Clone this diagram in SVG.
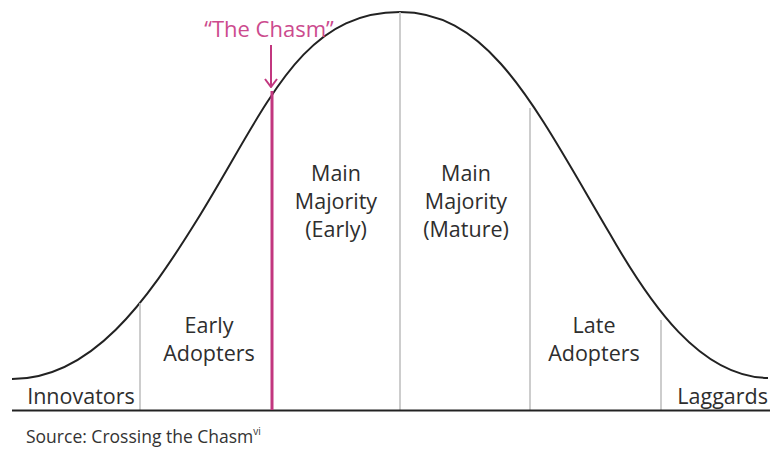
<svg xmlns="http://www.w3.org/2000/svg" width="770" height="450" viewBox="0 0 770 450">
  <style>
    .label { font-family: "Open Sans", "Noto Sans", sans-serif; font-size: 21.5px; fill: #2e2e2e; text-anchor: middle; }
    .divider { stroke: #bdbdbd; stroke-width: 1.5; fill: none; }
    .curve { stroke: #222; stroke-width: 2; fill: none; }
    .chasm { stroke: #c2377f; fill: none; }
  </style>
  <defs>
    <!-- open chevron arrowhead, drawn pointing along +x -->
    <marker id="chevron" viewBox="0 0 10 14" refX="9" refY="7" markerWidth="10" markerHeight="14" markerUnits="userSpaceOnUse" orient="auto">
      <path d="M1,1 L9,7 L1,13" fill="none" stroke="#c2377f" stroke-width="2"/>
    </marker>
  </defs>
  <rect width="770" height="450" fill="#fff"/>

  <!-- adoption bell curve -->
  <path class="curve" d="M12,379 C92,379 147,300.5 197,220 C267,107 300,12 400,12 C490,12 535,107 610,234 C650,304 700,377 768,378"/>

  <!-- connectors: segment dividers, baseline and the chasm marker -->
  <g id="connectors">
    <line class="divider" x1="140" y1="303" x2="140" y2="410"/>
    <line class="divider" x1="400" y1="12" x2="400" y2="410"/>
    <line class="divider" x1="530" y1="108" x2="530" y2="410"/>
    <line class="divider" x1="661" y1="320" x2="661" y2="410"/>
    <line x1="12" y1="410.5" x2="770" y2="410.5" stroke="#222" stroke-width="2"/>
    <line class="chasm" x1="272" y1="91" x2="272" y2="410" stroke-width="3"/>
    <line class="chasm" x1="271" y1="45" x2="271" y2="87" stroke-width="2" marker-end="url(#chevron)"/>
  </g>

  <g id="chasm-label">
    <text x="269" y="37" font-family="'Open Sans', 'Noto Sans', sans-serif" font-size="22" fill="#cc4b8e" text-anchor="middle">“The Chasm”</text>
  </g>

  <g id="innovators">
    <text class="label" x="81" y="404">Innovators</text>
  </g>
  <g id="early-adopters">
    <text class="label" x="209" y="333">Early</text>
    <text class="label" x="209" y="361">Adopters</text>
  </g>
  <g id="main-majority-early">
    <text class="label" x="336" y="181">Main</text>
    <text class="label" x="336" y="209">Majority</text>
    <text class="label" x="336" y="237">(Early)</text>
  </g>
  <g id="main-majority-mature">
    <text class="label" x="466" y="181">Main</text>
    <text class="label" x="466" y="209">Majority</text>
    <text class="label" x="466" y="237">(Mature)</text>
  </g>
  <g id="late-adopters">
    <text class="label" x="594" y="333">Late</text>
    <text class="label" x="594" y="361">Adopters</text>
  </g>
  <g id="laggards">
    <text class="label" x="768" y="404" style="text-anchor:end">Laggards</text>
  </g>

  <g id="source">
    <text x="26" y="443" font-family="'Open Sans', 'Noto Sans', sans-serif" font-size="17.5" fill="#333">Source: Crossing the Chasm<tspan font-size="10" dy="-8">vi</tspan></text>
  </g>
</svg>
